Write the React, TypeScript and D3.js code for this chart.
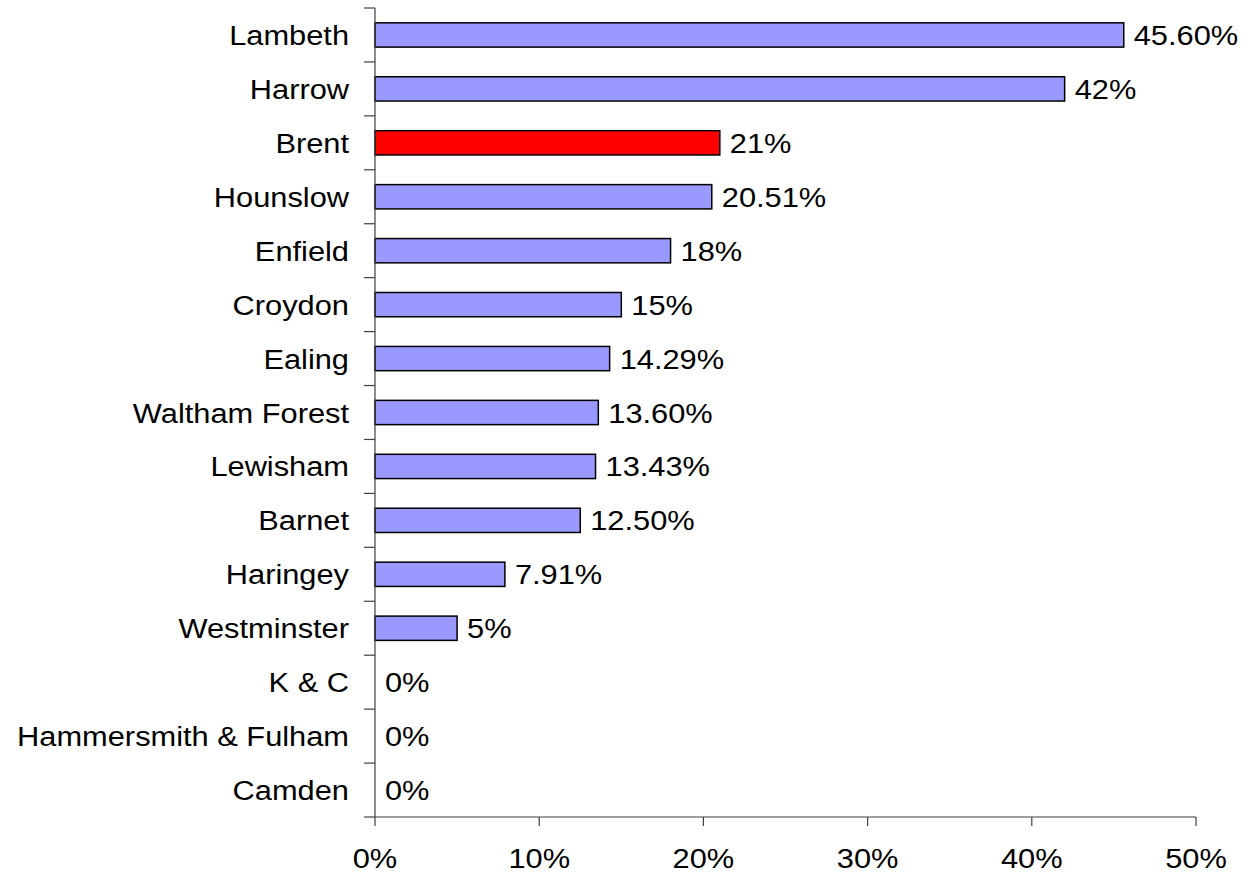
import React from "react";
import * as d3 from "d3";

const categories = [
  "Lambeth", "Harrow", "Brent", "Hounslow", "Enfield", "Croydon", "Ealing",
  "Waltham Forest", "Lewisham", "Barnet", "Haringey", "Westminster", "K & C",
  "Hammersmith & Fulham", "Camden",
];
const values = [45.6, 42, 21, 20.51, 18, 15, 14.29, 13.6, 13.43, 12.5, 7.91, 5, 0, 0, 0];
const valueLabels = [
  "45.60%", "42%", "21%", "20.51%", "18%", "15%", "14.29%", "13.60%", "13.43%",
  "12.50%", "7.91%", "5%", "0%", "0%", "0%",
];
const highlight = "Brent";
const xTicks = [0, 10, 20, 30, 40, 50];

const W = 1248;
const H = 875;
const left = 375;
const right = 1196;
const top = 8;
const bottom = 817;
const FS = 28;
const SX = 1.1;
const FONT = "Arial, 'Liberation Sans', sans-serif";

export default function App() {
  const x = d3.scaleLinear().domain([0, 50]).range([left, right]);
  const y = d3.scaleBand<string>().domain(categories).range([top, bottom]).paddingInner(0.55).paddingOuter(0.275);
  const yb = d3.scaleBand<string>().domain(categories).range([top, bottom]);
  const bounds = categories.map((c) => yb(c)!).concat([bottom]);

  const txt = (s: string, tx: number, ty: number, anchor: string, key: string) => (
    <text
      key={key}
      transform={`translate(${tx},${ty}) scale(${SX},1)`}
      textAnchor={anchor}
      fontSize={FS}
      fontFamily={FONT}
      fill="#000"
    >
      {s}
    </text>
  );

  return (
    <svg width={W} height={H} style={{ position: "absolute", left: 0, top: 0, background: "#fff" }}>
      {categories.map((c, i) => {
        const cy = yb(c)! + yb.bandwidth() / 2;
        return (
          <g key={c}>
            {values[i] > 0 && (
              <rect
                x={x(0)}
                y={y(c)!}
                width={x(values[i]) - x(0)}
                height={y.bandwidth()}
                fill={c === highlight ? "#FF0000" : "#9999FF"}
                stroke="#000"
                strokeWidth={1.5}
              />
            )}
            {txt(c, 349, cy + 10, "end", "l" + c)}
            {txt(valueLabels[i], x(values[i]) + 10, cy + 10, "start", "v" + c)}
          </g>
        );
      })}
      <line x1={left} x2={left} y1={top} y2={bottom} stroke="#404040" strokeWidth={1.2} />
      <line x1={left} x2={right} y1={bottom} y2={bottom} stroke="#404040" strokeWidth={1.2} />
      {bounds.map((b, i) => (
        <line key={"yt" + i} x1={left - 11} x2={left} y1={b} y2={b} stroke="#404040" strokeWidth={1.2} />
      ))}
      {xTicks.map((t) => (
        <g key={"xt" + t}>
          <line x1={x(t)} x2={x(t)} y1={bottom} y2={bottom + 9} stroke="#404040" strokeWidth={1.2} />
          {txt(`${t}%`, x(t), 868, "middle", "xl" + t)}
        </g>
      ))}
    </svg>
  );
}
